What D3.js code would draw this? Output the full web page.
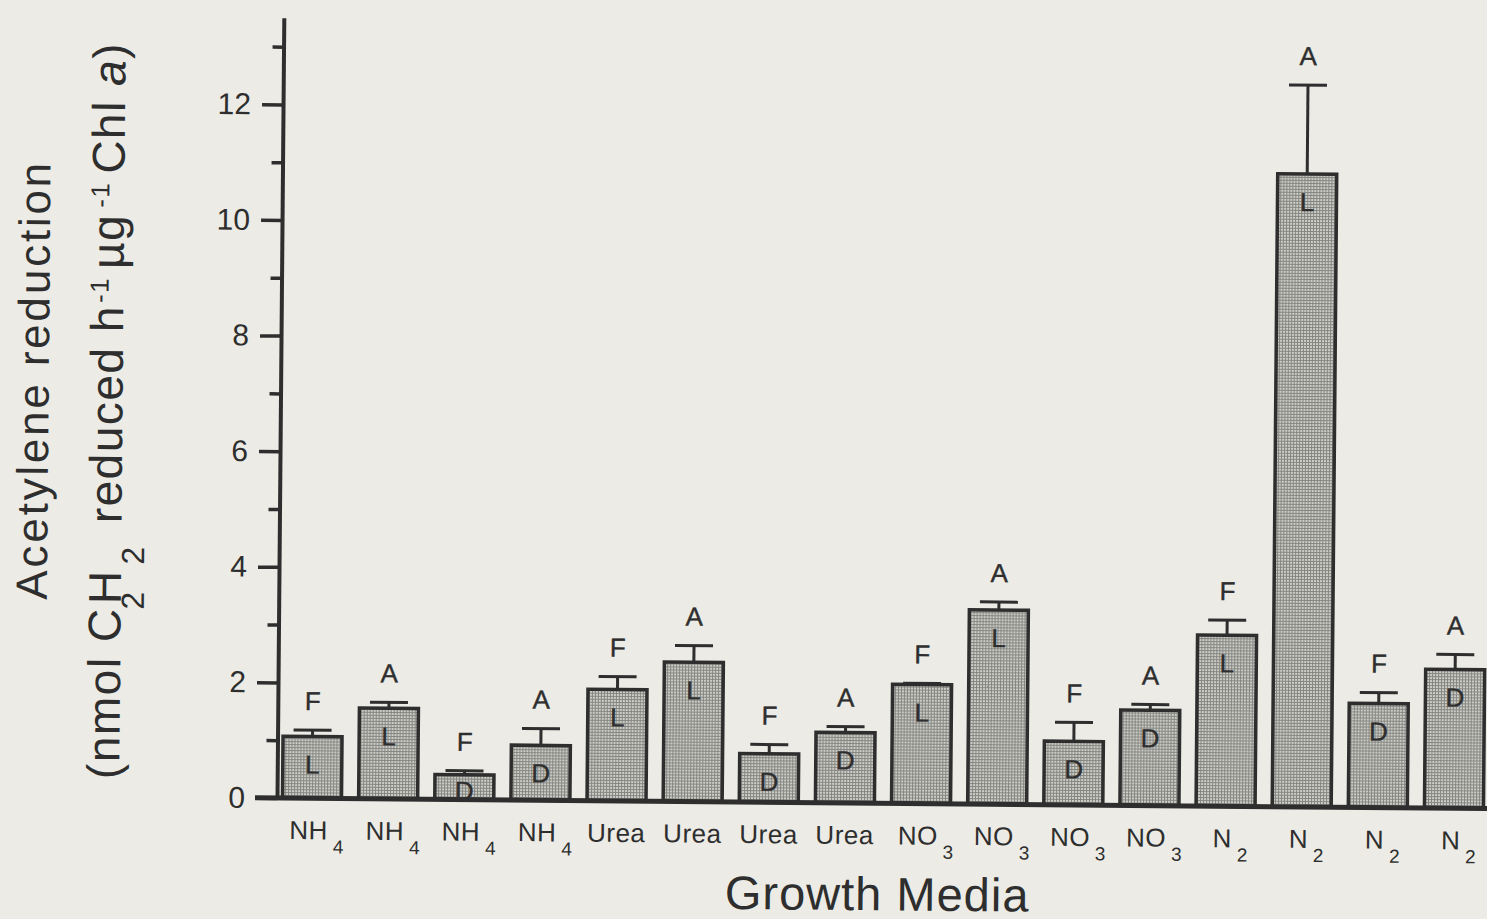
<!DOCTYPE html>
<html>
<head>
<meta charset="utf-8">
<script src="https://cdn.jsdelivr.net/npm/d3@7"></script>
<style>
  html, body { margin: 0; padding: 0; background: #ecebe6; }
  svg { display: block; }
  text { font-family: "Liberation Sans", Arial, Helvetica, sans-serif; fill: #2e2e2e; }
</style>
</head>
<body>
<svg id="chart" width="1487" height="919"></svg>
<script>
// Growth medium of each culture (main symbol + subscript)
const mediaBase = ["NH", "NH", "NH", "NH", "Urea", "Urea", "Urea", "Urea",
                   "NO", "NO", "NO", "NO", "N", "N", "N", "N"];
const mediaSub  = ["4", "4", "4", "4", "", "", "", "",
                   "3", "3", "3", "3", "2", "2", "2", "2"];
// Incubation condition printed inside each bar (L = light, D = dark)
const incubation = ["L", "L", "D", "D", "L", "L", "D", "D",
                    "L", "L", "D", "D", "L", "L", "D", "D"];
// Gas phase printed above each bar (F = N-free, A = acetylene)
const phase = ["F", "A", "F", "A", "F", "A", "F", "A",
               "F", "A", "F", "A", "F", "A", "F", "A"];
// Mean acetylene reduction and upper standard error
const means  = [1.07, 1.57, 0.43, 0.95, 1.93, 2.41, 0.84, 1.22,
                2.06, 3.36, 1.10, 1.65, 2.96, 10.95, 1.80, 2.40];
const errors = [0.11, 0.10, 0.07, 0.29, 0.22, 0.29, 0.16, 0.10,
                0.02, 0.14, 0.33, 0.10, 0.26, 1.54, 0.19, 0.26];
const majorTicks = [0, 2, 4, 6, 8, 10, 12];
const minorTicks = [1, 3, 5, 7, 9, 11, 13];

const W = 1487, H = 919;
const x0 = 277, y0 = 798;          // axis origin
const ink = "#2e2e2e";

const svg = d3.select("#chart");

// bar fill: fine halftone screen
const defs = svg.append("defs");
const pat = defs.append("pattern")
  .attr("id", "screen").attr("patternUnits", "userSpaceOnUse")
  .attr("width", 3).attr("height", 3);
pat.append("rect").attr("width", 3).attr("height", 3).attr("fill", "#cdcdc8");
pat.append("rect").attr("width", 3).attr("height", 1).attr("fill", "#858581");
pat.append("rect").attr("width", 1).attr("height", 3).attr("fill", "#858581");

// the printed figure sits at a slight angle on the page
const g = svg.append("g").attr("transform", `rotate(0.5, ${x0}, ${y0})`);

const idx = d3.range(means.length);
const x = d3.scaleBand().domain(idx).range([282.5, 1483.5])
  .paddingInner(0.225).paddingOuter(0);
const y = d3.scaleLinear().domain([0, 13.5]).range([y0, y0 - 13.5 * 57.8]);
const cx = i => x(i) + x.bandwidth() / 2;

// bars
g.selectAll("rect.bar").data(idx).join("rect")
  .attr("class", "bar")
  .attr("x", i => x(i))
  .attr("y", i => y(means[i]))
  .attr("width", x.bandwidth())
  .attr("height", i => y0 - y(means[i]))
  .attr("fill", "url(#screen)")
  .attr("stroke", ink).attr("stroke-width", 3.5);

// error bars (upper only)
const eb = g.selectAll("g.err").data(idx).join("g").attr("class", "err");
eb.append("line")
  .attr("x1", cx).attr("x2", cx)
  .attr("y1", i => y(means[i])).attr("y2", i => y(means[i] + errors[i]))
  .attr("stroke", ink).attr("stroke-width", 3);
eb.append("line")
  .attr("x1", i => cx(i) - 19).attr("x2", i => cx(i) + 19)
  .attr("y1", i => y(means[i] + errors[i])).attr("y2", i => y(means[i] + errors[i]))
  .attr("stroke", ink).attr("stroke-width", 3);

// letters inside bars
g.selectAll("text.inc").data(idx).join("text")
  .attr("class", "inc")
  .attr("x", cx)
  .attr("y", i => y(means[i]) + Math.min(28, (y0 - y(means[i])) * 0.65) + 9)
  .attr("text-anchor", "middle").attr("font-size", 26)
  .attr("stroke", ink).attr("stroke-width", 0.4)
  .text(i => incubation[i]);

// letters above error bars
g.selectAll("text.ph").data(idx).join("text")
  .attr("class", "ph")
  .attr("x", cx)
  .attr("y", i => y(means[i] + errors[i]) - 20)
  .attr("text-anchor", "middle").attr("font-size", 26)
  .attr("stroke", ink).attr("stroke-width", 0.4)
  .text(i => phase[i]);

// y axis: major and minor ticks
const yMajor = d3.axisLeft(y).tickValues(majorTicks).tickSize(21).tickSizeOuter(0).tickPadding(11);
const yMinor = d3.axisLeft(y).tickValues(minorTicks).tickSize(11).tickSizeOuter(0).tickFormat("");
const ya = g.append("g").attr("transform", `translate(${x0},0)`).call(yMajor);
g.append("g").attr("transform", `translate(${x0},0)`).call(yMinor)
  .select(".domain").remove();
g.selectAll(".tick line").attr("stroke", ink).attr("stroke-width", 3.5);
ya.select(".domain").attr("stroke", ink).attr("stroke-width", 4);
ya.selectAll(".tick text")
  .attr("font-size", 30).attr("fill", ink)
  .attr("font-family", "'Liberation Sans', Arial, sans-serif");

// baseline
g.append("line")
  .attr("x1", x0 - 22).attr("x2", W + 20)
  .attr("y1", y0).attr("y2", y0)
  .attr("stroke", ink).attr("stroke-width", 5);

// category labels with subscripts
const xl = g.selectAll("text.cat").data(idx).join("text")
  .attr("class", "cat")
  .attr("x", i => cx(i) + (mediaSub[i] ? 5 : 0))
  .attr("y", y0 + 41)
  .attr("text-anchor", "middle").attr("font-size", 26)
  .attr("letter-spacing", 0.5);
xl.append("tspan").text(i => mediaBase[i]);
xl.filter(i => mediaSub[i] !== "").append("tspan")
  .attr("dx", 5).attr("dy", 14).attr("font-size", 19)
  .text(i => mediaSub[i]);

// x axis title
g.append("text")
  .attr("x", 878).attr("y", y0 + 107)
  .attr("text-anchor", "middle").attr("font-size", 47)
  .attr("letter-spacing", 1)
  .text("Growth Media");

// y axis title, two lines
g.append("text")
  .attr("transform", "translate(45,382) rotate(-90)")
  .attr("text-anchor", "middle").attr("font-size", 44)
  .attr("letter-spacing", 2.8)
  .text("Acetylene reduction");

const t2 = g.append("text")
  .attr("transform", "translate(119,412) rotate(-90)")
  .attr("text-anchor", "middle").attr("font-size", 46)
  .attr("letter-spacing", 1.5);
t2.append("tspan").text("(nmol C");
t2.append("tspan").attr("dy", 23).attr("dx", -2).attr("font-size", 32).text("2");
t2.append("tspan").attr("dy", -23).attr("dx", -14).text("H");
t2.append("tspan").attr("dy", 23).attr("dx", 5).attr("font-size", 32).text("2");
t2.append("tspan").attr("dy", -23).attr("dx", 22).text("reduced h");
t2.append("tspan").attr("dy", -15).attr("dx", 2).attr("font-size", 26).text("-1");
t2.append("tspan").attr("dy", 15).attr("dx", 8).text("µg");
t2.append("tspan").attr("dy", -15).attr("dx", 6).attr("font-size", 26).text("-1");
t2.append("tspan").attr("dy", 15).attr("dx", 8).text("Chl ");
t2.append("tspan").attr("font-style", "italic").text("a");
t2.append("tspan").text(")");
</script>
</body>
</html>
